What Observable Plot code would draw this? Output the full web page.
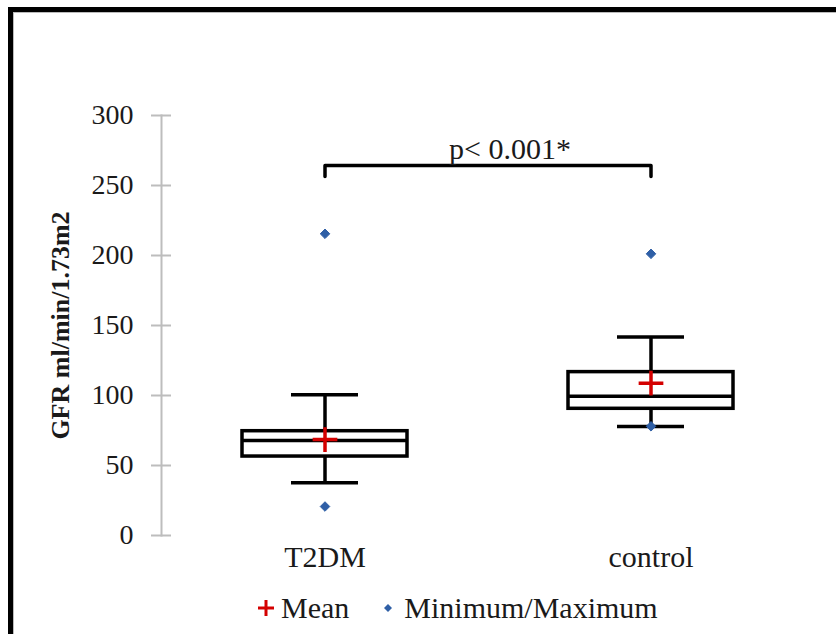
<!DOCTYPE html>
<html>
<head>
<meta charset="utf-8">
<script src="https://cdn.jsdelivr.net/npm/d3@7"></script>
<script src="https://cdn.jsdelivr.net/npm/@observablehq/plot@0.6"></script>
<style>
  html, body { margin: 0; padding: 0; background: #fff; overflow: hidden; }
  #wrap { position: relative; width: 836px; height: 634px; }
  #frame { position: absolute; left: 8px; top: 7px; width: 900px; height: 700px;
           border-left: 5px solid #000; border-top: 5px solid #000;
           box-shadow: inset 1px 1px 0 #bbb; pointer-events: none; }
  #legend { position: absolute; left: 257px; top: 585px; height: 46px; display: flex; align-items: center;
            font: 30px "Liberation Serif", "Times New Roman", serif; color: #1a1a1a; }
</style>
</head>
<body>
<div id="wrap">
  <div id="chart"></div>
  <div id="legend">
    <svg width="18" height="18"><path d="M1,9H17M9,1V17" stroke="#d40000" stroke-width="3" fill="none"/></svg>
    <span style="margin-left:6px">Mean</span>
    <svg style="margin-left:34px" width="10" height="10"><path d="M5,1L9,5L5,9L1,5Z" fill="#2f5fa6"/></svg>
    <span style="margin-left:11px">Minimum/Maximum</span>
  </div>
  <div id="frame"></div>
</div>
<script>
// ---- data ----
const groups     = ["T2DM", "control"];
const minVals    = [20.7, 78.0];
const whiskerLo  = [37.6, 77.9];
const q1Vals     = [56.4, 90.5];
const medianVals = [67.9, 99.5];
const q3Vals     = [74.5, 116.7];
const whiskerHi  = [100.5, 141.7];
const maxVals    = [215.5, 201.2];
const meanVals   = [68.5, 108.8];
const yTicks     = [0, 50, 100, 150, 200, 250, 300];
const yLabel     = "GFR ml/min/1.73m2";
const pLabel     = "p< 0.001*";
const bracketLow = 256.5;
const bracketTop = 264.3;
const pLabelY    = 269;

const rows = groups.map((g, i) => ({
  group: g, min: minVals[i], lo: whiskerLo[i], q1: q1Vals[i], median: medianVals[i],
  q3: q3Vals[i], hi: whiskerHi[i], max: maxVals[i], mean: meanVals[i]
}));
const extremes = rows.flatMap(d => [{group: d.group, v: d.min}, {group: d.group, v: d.max}]);
const bracket = [
  {group: groups[0], v: bracketLow}, {group: groups[0], v: bracketTop},
  {group: groups[1], v: bracketTop}, {group: groups[1], v: bracketLow}
];

const font = '"Liberation Serif", "Times New Roman", serif';

const chart = Plot.plot({
  width: 836,
  height: 585,
  marginTop: 115,
  marginBottom: 50,
  marginLeft: 161,
  marginRight: 23,
  style: {fontFamily: font, background: "transparent", color: "#1a1a1a"},
  x: {type: "band", domain: groups, paddingInner: 0.494, paddingOuter: 0.247, label: null},
  y: {domain: [0, 300], label: null},
  marks: [
    Plot.frame({anchor: "left", stroke: "#bdbdbd", strokeWidth: 2}),
    Plot.axisY({ticks: yTicks, tickSize: 20, dx: 10, tickPadding: 18, fontSize: 28,
      stroke: "#bdbdbd", strokeWidth: 2, fill: "#1a1a1a", label: null}),
    Plot.axisX({tickSize: 0, tickPadding: 10, fontSize: 30, fill: "#1a1a1a", label: null}),
    Plot.text([yLabel], {frameAnchor: "left", textAnchor: "middle", rotate: -90, dx: -93, lineAnchor: "bottom",
      fontSize: 26, fontWeight: "bold", fill: "#1a1a1a"}),
    // whiskers
    Plot.ruleX(rows, {x: "group", y1: "q3", y2: "hi", stroke: "#000", strokeWidth: 3.5}),
    Plot.ruleX(rows, {x: "group", y1: "q1", y2: "lo", stroke: "#000", strokeWidth: 3.5}),
    Plot.tickY(rows, {x: "group", y: "hi", stroke: "#000", strokeWidth: 3.5, insetLeft: 49, insetRight: 49}),
    Plot.tickY(rows, {x: "group", y: "lo", stroke: "#000", strokeWidth: 3.5, insetLeft: 49, insetRight: 49}),
    // box
    Plot.barY(rows, {x: "group", y1: "q1", y2: "q3", fill: "none", stroke: "#000", strokeWidth: 3.5}),
    Plot.tickY(rows, {x: "group", y: "median", stroke: "#000", strokeWidth: 3.5}),
    // mean
    Plot.dot(rows, {x: "group", y: "mean", symbol: "plus", r: 8, stroke: "#d40000", strokeWidth: 3.5}),
    // min / max
    Plot.dot(extremes, {x: "group", y: "v", symbol: "diamond2", r: 4.3, fill: "#2f5fa6", stroke: "#2f5fa6", strokeWidth: 1}),
    // significance bracket
    Plot.line(bracket, {x: "group", y: "v", stroke: "#000", strokeWidth: 3.5, curve: "linear"}),
    Plot.text([pLabel], {x: () => groups[0], y: () => pLabelY, dx: 124, textAnchor: "start",
      lineAnchor: "bottom", fontSize: 30, fill: "#1a1a1a"})
  ]
});
document.getElementById("chart").appendChild(chart);
</script>
</body>
</html>
